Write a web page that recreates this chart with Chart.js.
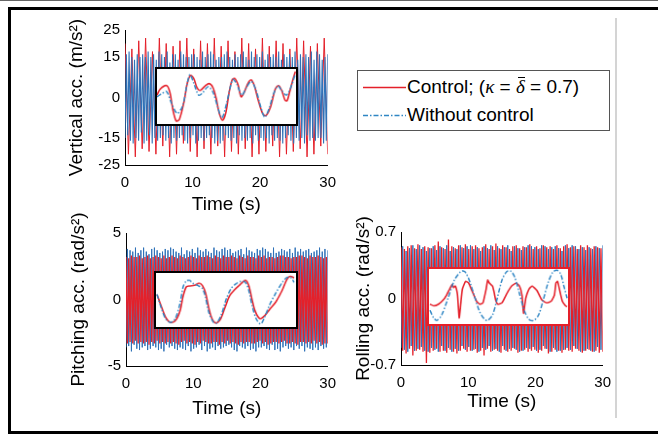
<!DOCTYPE html>
<html><head><meta charset="utf-8">
<script src="https://cdn.jsdelivr.net/npm/chart.js@4/dist/chart.umd.min.js"></script>
<style>
html,body{margin:0;padding:0;background:#fff;}
body{width:658px;height:434px;position:relative;overflow:hidden;font-family:"Liberation Sans",Arial,sans-serif;}
canvas{position:absolute;display:block;}
.inset{background:#fff;box-sizing:content-box;}
#frame{position:absolute;left:8px;top:7px;width:650px;height:427px;border-left:3px solid #000;border-top:3px solid #000;border-bottom:3px solid #000;box-sizing:border-box;}
#topline{position:absolute;left:0;top:0;width:658px;height:1px;background:#666;}
#vline{position:absolute;left:615px;top:18px;width:2px;height:400px;background:#d4d4d4;}
#legend{position:absolute;left:357px;top:70px;width:253px;height:61px;border:1px solid #555;box-sizing:border-box;background:#fff;}
#legend .t{position:absolute;left:49px;font-size:19px;line-height:22px;white-space:nowrap;color:#000;}
#legend i{font-family:"Liberation Serif","Times New Roman",serif;}
#legend .bar{display:inline-block;position:relative;}
#legend .bar::before{content:"";position:absolute;left:2px;right:0;top:1px;border-top:1px solid #000;}
</style></head>
<body>
<div id="topline"></div>
<div id="frame"></div>
<div id="vline"></div>
<canvas id="cV" width="295" height="202" style="left:50px;top:15px;"></canvas>
<canvas id="cP" width="295" height="223" style="left:50px;top:200px;"></canvas>
<canvas id="cR" width="290" height="217" style="left:330px;top:200px;"></canvas>
<canvas id="iV" class="inset" width="143" height="59" style="left:155px;top:67px;border:2px solid #000;"></canvas>
<canvas id="iP" class="inset" width="144" height="58" style="left:154px;top:271px;border:2px solid #000;"></canvas>
<canvas id="iR" class="inset" width="143" height="59" style="left:427px;top:267px;border:2px solid #e4202a;"></canvas>
<div id="legend">
  <svg width="251" height="59" style="position:absolute;left:0;top:0;">
    <line x1="5" y1="16.5" x2="48" y2="16.5" stroke="#e4202a" stroke-width="1.5"/>
    <line x1="5" y1="44.5" x2="48" y2="44.5" stroke="#2f86c4" stroke-width="1.5" stroke-dasharray="5,2,1.5,2"/>
  </svg>
  <div class="t" style="top:5px;">Control; (<i>κ</i> = <i class="bar">δ</i> = 0.7)</div>
  <div class="t" style="top:33px;">Without control</div>
</div>
<script>
// ---------- DATA ----------
const TIME_END = 30;
const xTickValues = [0, 10, 20, 30];

// Vertical acceleration (m/s^2)
const vertYTicks = [-25, -15, 0, 15, 25];
const vertControl = [20,-21,18,-22,21,-19,22,-20,17,-21,22,-18,20,-22,19,-21,21,-17,22,-20,18,-22,21,-19,20,-21,22,-18,19,-22,21,-20,17,-21,22,-19,20,-22,18,-21,22,-20,19,-18,21,-22,20,-21,18,-20,22,-19,21,-22,19,-21,20,-18,22,-21];
const vertFree = [-15,16,-14,17,-16,15,-17,14,-15,16,-16,15,-13,16,-17,15,-16,17,-14,15,-17,16,-15,14,-16,17,-15,16,-14,15,-16,17,-15,13,-17,16,-15,16,-16,14,-15,17,-14,16,-16,15,-17,15,-15,16,-14,16,-17,15,-16,14,-15,17,-16,15,-15,16,-14,17,-15,16,-17,14,-16,15,-17,15,-16,16,-14,17,-15,15,-16,14,-15,16,-17,15,-14,16,-16,17,-15,15,-16,14,-15,17,-17,15,-14,16,-16,15,-15,17,-16,14,-15,16,-17,15,-14,16,-16,15,-15,17,-16,14,-17,16,-15,15,-14,16,-16,15,-17,17,-15,14,-16,16,-15,15,-17,16,-14,15,-16,17,-15,14,-16,17,-15,16,-15,14,-17,15,-16,16];

// Pitching acceleration (rad/s^2)
const pitchYTicks = [-5, 0, 5];
const pitchControl = [3.2,-3.3,3.1,-3.2,3.3,-3.3,3.2,-3.1,3.2,-3.3,3.3,-3.2,3.1,-3.3,3.2,-3.2,3.3,-3.4,3.1,-3.2,3.2,-3.3,3.3,-3.1,3.2,-3.3,3.1,-3.2,3.3,-3.3,3.1,-3.2,3.2,-3.3,3.3,-3.2,3.2,-3.3,3.1,-3.4,3.3,-3.2,3.2,-3.1,3.1,-3.3,3.2,-3.2,3.3,-3.3,3.2,-3.4,3.1,-3.2,3.3,-3.3,3.2,-3.1,3.2,-3.2,3.3,-3.3,3.2,-3.3,3.1,-3.2,3.3,-3.2,3.2,-3.4,3.1,-3.2,3.3,-3.3,3.2,-3.1,3.2,-3.3,3.3,-3.2,3.2,-3.3,3.1,-3.4,3.3,-3.2,3.2,-3.3,3.1,-3.2,3.3,-3.2,3.2,-3.3,3.2,-3.3,3.1,-3.2,3.3,-3.1,3.2,-3.3,3.3,-3.2,3.1,-3.4,3.2,-3.3,3.2,-3.2,3.1,-3.2,3.2,-3.3,3.3,-3.2,3.3,-3.1,3.2,-3.3,3.2,-3.3,3.1,-3.2,3.2,-3.3,3.2,-3.4,3.3,-3.2,3.3,-3.2,3.2,-3.3,3.1,-3.2,3.3,-3.3,3.2,-3.1,3.2,-3.3,3.3,-3.2,3.2,-3.4,3.1,-3.3,3.2,-3.3];
const pitchFree = [-3.6,3.8,-3.5,3.7,-3.9,3.6,-3.4,3.9,-3.7,3.5,-3.8,3.7,-3.6,3.9,-3.5,3.6,-3.8,3.4,-3.7,3.8,-3.5,3.9,-3.6,3.7,-3.8,3.5,-3.7,3.6,-3.9,3.8,-3.4,3.7,-3.6,3.9,-3.5,3.8,-3.7,3.6,-3.8,3.5,-3.6,3.9,-3.7,3.4,-3.8,3.7,-3.5,3.6,-3.9,3.8,-3.7,3.5,-3.6,3.9,-3.4,3.7,-3.8,3.6,-3.5,3.8,-3.9,3.6,-3.7,3.5,-3.6,3.9,-3.8,3.7,-3.5,3.6,-3.7,3.8,-3.6,3.9,-3.5,3.7,-3.4,3.8,-3.6,3.5,-3.8,3.6,-3.9,3.7,-3.5,3.8,-3.6,3.4,-3.7,3.9,-3.5,3.7,-3.8,3.6,-3.7,3.5,-3.9,3.8,-3.6,3.7,-3.6,3.9,-3.5,3.8,-3.7,3.6,-3.8,3.5,-3.4,3.9,-3.8,3.5,-3.7,3.6,-3.9,3.8,-3.6,3.7,-3.5,3.6,-3.7,3.8,-3.6,3.5,-3.8,3.9,-3.5,3.6,-3.7,3.8,-3.5,3.6,-3.9,3.7,-3.6,3.8,-3.7,3.5,-3.8,3.6,-3.6,3.7,-3.8,3.9,-3.5,3.6,-3.7,3.8,-3.6,3.7];

// Rolling acceleration (rad/s^2)
const rollYTicks = [-0.7, 0, 0.7];
const rollControl = [0.54,-0.55,0.52,-0.58,0.55,-0.53,0.56,-0.6,0.53,-0.55,0.57,-0.54,0.52,-0.56,0.55,-0.68,0.54,-0.57,0.53,-0.55,0.56,-0.53,0.6,-0.56,0.54,-0.55,0.52,-0.57,0.62,-0.54,0.55,-0.56,0.53,-0.58,0.56,-0.55,0.54,-0.53,0.57,-0.56,0.52,-0.55,0.55,-0.54,0.56,-0.57,0.53,-0.55,0.54,-0.6,0.57,-0.53,0.52,-0.56,0.55,-0.54,0.58,-0.55,0.53,-0.57,0.56,-0.54,0.54,-0.56,0.52,-0.55,0.55,-0.53,0.56,-0.57,0.53,-0.55,0.55,-0.54,0.54,-0.56,0.57,-0.55,0.52,-0.54,0.55,-0.57,0.53,-0.55,0.56,-0.53,0.54,-0.58,0.55,-0.56,0.52,-0.54,0.56,-0.55,0.53,-0.57,0.55,-0.54,0.57,-0.55,0.54,-0.56,0.55,-0.53,0.52,-0.55,0.56,-0.57,0.54,-0.55,0.56,-0.54,0.53,-0.56,0.55,-0.55,0.54,-0.57,0.53,-0.56];
const rollFree = [-0.52,0.55,-0.54,0.5,-0.56,0.53,-0.5,0.56,-0.55,0.52,-0.53,0.56,-0.51,0.54,-0.55,0.5,-0.56,0.53,-0.52,0.55,-0.54,0.51,-0.56,0.55,-0.5,0.53,-0.55,0.56,-0.52,0.5,-0.56,0.54,-0.53,0.52,-0.55,0.56,-0.5,0.53,-0.54,0.55,-0.51,0.56,-0.55,0.52,-0.53,0.54,-0.56,0.5,-0.52,0.55,-0.54,0.53,-0.5,0.56,-0.55,0.51,-0.53,0.55,-0.56,0.52,-0.5,0.54,-0.55,0.56,-0.53,0.5,-0.52,0.55,-0.54,0.53,-0.56,0.51,-0.55,0.54,-0.52,0.56,-0.53,0.55,-0.51,0.54,-0.55,0.52,-0.54,0.56,-0.5,0.55,-0.53,0.52,-0.56,0.54,-0.52,0.55,-0.56,0.53,-0.55,0.5,-0.54,0.56,-0.52,0.53,-0.54,0.56,-0.5,0.55,-0.53,0.52,-0.56,0.54,-0.55,0.51,-0.53,0.54,-0.55,0.52,-0.56,0.55,-0.51,0.53,-0.54,0.56];

// Zoomed insets (normalized time 0-100 across the inset, normalized amplitude -1..1)
const insetVertCtrlT = [0,2.3,6.9,9.2,11.5,13.8,16.1,19.5,21.8,24.1,26.4,28.7,31.0,34.5,37.5,40.2,42.5,44.8,47.1,49.4,51.7,54.0,55.9,58.2,60.5,62.8,65.5,67.8,70.1,72.4,75.9,78.2,81.6,85.1,87.4,89.7,92.0,93.6,95.4,97.7,99.5];
const insetVertCtrl = [0.05,0.27,0.40,0.16,-0.50,-0.89,-0.83,-0.17,0.49,0.77,0.66,0.33,0.22,0.38,0.47,0.33,-0.06,-0.61,-0.86,-0.61,0.10,0.60,0.66,0.44,-0.01,0.16,0.49,0.60,0.38,-0.06,-0.61,-0.70,-0.39,0.27,0.40,0.22,-0.12,-0.15,0.16,0.60,0.91];
const insetVertFreeT = [0,3.4,6.9,10.3,14.5,18.4,21.8,23.7,26.4,29.9,32.2,36.8,40.2,43.7,46.7,49.9,52.9,54.7,57.5,60.9,64.4,67.8,71.3,74.7,77.5,80.5,83.9,86.9,89.7,93.1,96.6,99.5];
const insetVertFree = [-0.01,0.10,0.18,-0.23,-0.61,-0.34,0.49,0.80,0.49,0.05,0.10,0.36,0.16,-0.39,-0.78,-0.28,0.38,0.62,0.44,0.05,0.33,0.55,0.22,-0.39,-0.75,-0.45,0.10,0.38,0.22,0.05,0.38,0.82];

const insetPitchCtrlT = [0.7,3.4,6.8,10.3,13.7,17.1,19.4,21.7,24.0,27.4,30.8,33.1,35.4,37.7,40.0,42.7,45.7,49.1,52.5,55.9,59.4,63.9,66.2,68.5,70.8,74.2,77.6,81.1,85.6,90.2,93.6,95.9,98.6];
const insetPitchCtrl = [0.21,-0.18,-0.63,-0.83,-0.77,-0.41,0.15,0.49,0.52,0.54,0.62,0.54,0.26,-0.30,-0.69,-0.85,-0.74,-0.30,0.15,0.37,0.54,0.73,0.54,0.04,-0.41,-0.69,-0.58,-0.35,-0.07,0.37,0.77,0.88,0.82];
const insetPitchFreeT = [0.7,3.4,6.8,10.3,13.7,17.1,19.4,21.7,24.0,26.3,29.7,33.1,35.4,37.7,41.1,43.4,46.8,50.2,53.7,57.1,60.5,63.9,66.2,68.5,71.5,74.7,77.6,81.1,85.6,90.2,93.6,96.6,98.6];
const insetPitchFree = [0.21,-0.24,-0.69,-0.83,-0.69,-0.13,0.49,0.71,0.73,0.62,0.54,0.43,0.09,-0.46,-0.83,-0.85,-0.52,0.04,0.43,0.60,0.69,0.65,0.37,-0.18,-0.69,-0.89,-0.63,-0.18,0.26,0.65,0.84,0.82,0.65];

const insetRollCtrlT = [0.7,3.4,6.8,10.3,12.6,14.8,16.7,17.6,19.0,20.5,21.7,22.8,24.0,26.3,28.5,30.8,34.2,36.5,38.8,41.1,42.2,43.4,45.7,46.8,47.9,49.5,52.5,55.9,59.4,62.8,65.1,66.9,68.0,69.6,71.9,74.2,77.6,81.1,84.5,87.9,90.2,91.3,92.5,94.3,95.9,98.2,99.3];
const insetRollCtrl = [-0.28,-0.34,-0.28,-0.12,0.05,0.27,0.44,0.33,0.38,0.05,-0.78,-0.28,0.27,0.55,0.49,0.22,-0.17,-0.28,-0.23,0.27,0.60,0.49,0.38,0.16,-0.12,-0.28,-0.23,0.10,0.38,0.49,0.38,0.05,-0.61,-0.06,0.27,0.38,0.22,-0.12,-0.23,-0.17,0.05,0.49,0.55,0.16,-0.17,-0.34,-0.37];
const insetRollFreeT = [0.7,3.4,5.7,9.1,13.7,18.3,22.8,24.4,26.3,29.7,33.1,36.5,40.0,42.2,45.7,49.1,52.5,55.9,58.7,61.6,65.1,68.5,71.9,75.3,78.8,82.2,85.6,89.0,92.0,94.7,97.0,99.3];
const insetRollFree = [-0.50,-0.78,-0.87,-0.67,-0.06,0.60,0.91,0.93,0.88,0.49,-0.06,-0.56,-0.83,-0.87,-0.67,-0.06,0.60,0.91,0.93,0.71,0.10,-0.50,-0.83,-0.87,-0.67,-0.12,0.49,0.88,0.96,0.82,0.38,-0.06];

// ---------- STYLE ----------
const RED = '#e4202a';
const BLUE = '#2f72b8';
const BLUE_INSET = '#2f86c4';
const FONT = "'Liberation Sans', Arial, sans-serif";
Chart.defaults.font.family = FONT;
Chart.defaults.color = '#000';

function series(vals) {
  const n = vals.length;
  return vals.map((v, i) => ({x: i * TIME_END / (n - 1), y: v}));
}
function pairs(ts, vs) { return ts.map((t, i) => ({x: t, y: vs[i]})); }

function makeMain(id, o) {
  const dsCtrl = {data: series(o.ctrl), borderColor: RED, borderWidth: o.ctrlW, pointRadius: 0, tension: 0};
  const dsFree = {data: series(o.free), borderColor: BLUE, borderWidth: o.freeW, pointRadius: 0, tension: 0};
  const datasets = o.freeOnTop ? [dsFree, dsCtrl] : [dsCtrl, dsFree];
  new Chart(document.getElementById(id), {
    type: 'line',
    data: {datasets},
    options: {
      responsive: false, animation: false, events: [],
      layout: {padding: {top: o.padTop, right: o.padRight, left: 0, bottom: 0}},
      plugins: {legend: {display: false}, tooltip: {enabled: false}},
      scales: {
        x: {
          type: 'linear', min: 0, max: TIME_END,
          afterBuildTicks: s => { s.ticks = xTickValues.map(v => ({value: v})); },
          ticks: {font: {size: 15}, padding: o.xTickPad, maxRotation: 0, callback: v => String(v)},
          grid: {display: false, drawTicks: false},
          border: {display: true, color: '#000', width: 1},
          title: {display: true, text: 'Time (s)', font: {size: 19}, padding: {top: 0, bottom: o.xTitlePad}},
          afterFit: s => { s.height = o.xH; }
        },
        y: {
          type: 'linear', min: o.ymin, max: o.ymax,
          afterBuildTicks: s => { s.ticks = o.yTicks.map(v => ({value: v})); },
          ticks: {font: {size: 15}, padding: 5, callback: v => String(v)},
          grid: {display: false, drawTicks: false},
          border: {display: true, color: '#000', width: 1},
          title: {display: true, text: o.ylabel, font: {size: 19}, padding: {top: o.yTitlePad, bottom: 0}},
          afterFit: s => { s.width = o.yW; }
        }
      }
    }
  });
}

function makeInset(id, ctrlT, ctrl, freeT, free, ctrlTension) {
  new Chart(document.getElementById(id), {
    type: 'line',
    data: {datasets: [
      {data: pairs(freeT, free), borderColor: BLUE_INSET, borderWidth: 1.5, borderDash: [5, 2, 1.5, 2], pointRadius: 0, tension: 0.3},
      {data: pairs(ctrlT, ctrl), borderColor: RED, borderWidth: 1.6, pointRadius: 0, tension: ctrlTension}
    ]},
    options: {
      responsive: false, animation: false, events: [],
      layout: {padding: 0},
      plugins: {legend: {display: false}, tooltip: {enabled: false}},
      scales: {
        x: {type: 'linear', display: false, min: 0, max: 100},
        y: {type: 'linear', display: false, min: -1, max: 1}
      }
    }
  });
}

makeMain('cV', {ctrl: vertControl, free: vertFree, ctrlW: 1, freeW: 1.1, freeOnTop: true,
  ymin: -25, ymax: 25, yTicks: vertYTicks, ylabel: 'Vertical acc. (m/s²)',
  padTop: 15, padRight: 14, yW: 75, xH: 52, xTickPad: 9, xTitlePad: 1, yTitlePad: 15});
makeMain('cP', {ctrl: pitchControl, free: pitchFree, ctrlW: 1.3, freeW: 1, freeOnTop: false,
  ymin: -5, ymax: 5, yTicks: pitchYTicks, ylabel: 'Pitching acc. (rad/s²)',
  padTop: 33, padRight: 15, yW: 76, xH: 57, xTickPad: 9, xTitlePad: 3, yTitlePad: 17});
makeMain('cR', {ctrl: rollControl, free: rollFree, ctrlW: 1.3, freeW: 1, freeOnTop: false,
  ymin: -0.7, ymax: 0.7, yTicks: rollYTicks, ylabel: 'Rolling acc. (rad/s²)',
  padTop: 32, padRight: 14, yW: 71, xH: 52, xTickPad: 9, xTitlePad: 4, yTitlePad: 22});

makeInset('iV', insetVertCtrlT, insetVertCtrl, insetVertFreeT, insetVertFree, 0.3);
makeInset('iP', insetPitchCtrlT, insetPitchCtrl, insetPitchFreeT, insetPitchFree, 0.3);
makeInset('iR', insetRollCtrlT, insetRollCtrl, insetRollFreeT, insetRollFree, 0.15);
</script>
</body></html>
